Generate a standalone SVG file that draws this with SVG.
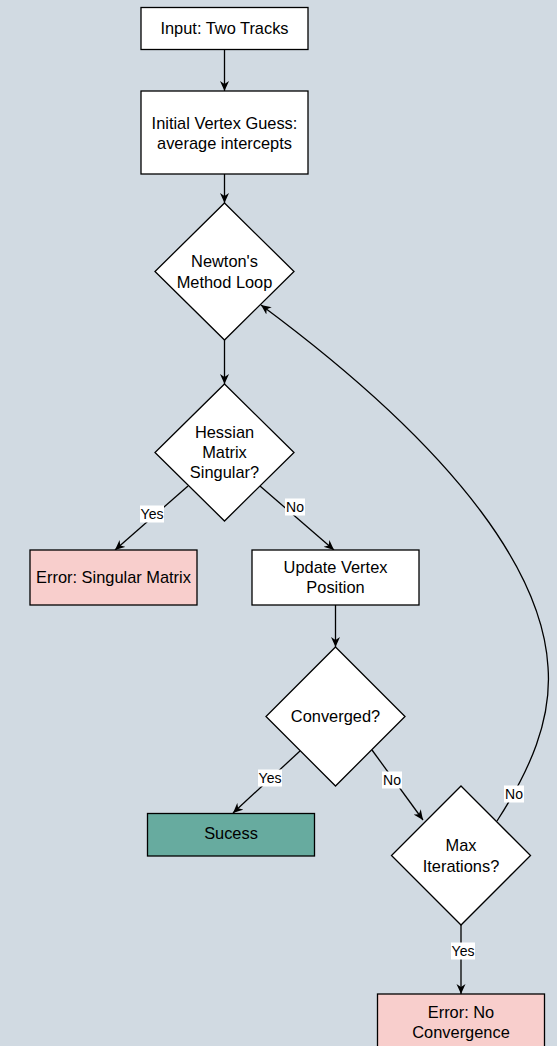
<svg xmlns="http://www.w3.org/2000/svg" width="557" height="1046" viewBox="0 0 557 1046">
  <style>
    .box { stroke: #000; stroke-width: 1.3; }
    .plain { fill: #fff; }
    .err { fill: #f8cecc; }
    .ok { fill: #67ab9f; }
    .txt { font-family: "Liberation Sans", Arial, sans-serif; font-size: 16.4px; fill: #000; text-anchor: middle; }
    .edge { fill: none; stroke: #000; stroke-width: 1.3; marker-end: url(#arr); }
    .lblbg { fill: #fff; }
    .lbl { font-family: "Liberation Sans", Arial, sans-serif; font-size: 14px; fill: #000; text-anchor: middle; }
  </style>
  <defs>
    <marker id="arr" viewBox="0 0 10 10" refX="10" refY="5" markerWidth="10" markerHeight="10" markerUnits="userSpaceOnUse" orient="auto">
      <path d="M0,0.5 L10,5 L0,9.5 L3,5 z" fill="#000"/>
    </marker>
  </defs>

  <rect width="557" height="1046" fill="#d1dae2"/>

  <!-- connectors -->
  <g id="edges">
    <path class="edge" d="M224.5,49 L224.5,91"/>
    <path class="edge" d="M224.5,174 L224.5,203"/>
    <path class="edge" d="M224.5,340 L224.5,384"/>
    <path class="edge" d="M188,486 L115,550"/>
    <path class="edge" d="M260,486 L334,550"/>
    <path class="edge" d="M335.5,605 L335.5,647"/>
    <path class="edge" d="M300,751 L233,813"/>
    <path class="edge" d="M372,750 L423,820"/>
    <path class="edge" d="M461,924 L461,994"/>
    <path class="edge" d="M497,821 C530,770 552,720 548,667 C543,580 470,460 261,305"/>

    <!-- edge labels -->
    <rect class="lblbg" x="140" y="505.5" width="24" height="17"/>
    <text class="lbl" x="152" y="519">Yes</text>
    <rect class="lblbg" x="285" y="498.5" width="20" height="17"/>
    <text class="lbl" x="295" y="512">No</text>
    <rect class="lblbg" x="258" y="769.5" width="24" height="17"/>
    <text class="lbl" x="270" y="783">Yes</text>
    <rect class="lblbg" x="382" y="771.5" width="20" height="17"/>
    <text class="lbl" x="392" y="785">No</text>
    <rect class="lblbg" x="504" y="785.5" width="20" height="17"/>
    <text class="lbl" x="514" y="799">No</text>
    <rect class="lblbg" x="451" y="942.5" width="24" height="17"/>
    <text class="lbl" x="463" y="956">Yes</text>
  </g>

  <g id="input">
    <rect class="box plain" x="141" y="7.5" width="167" height="42"/>
    <text class="txt" x="224.5" y="34">Input: Two Tracks</text>
  </g>

  <g id="guess">
    <rect class="box plain" x="141" y="91" width="167" height="83"/>
    <text class="txt" x="224.5" y="129">Initial Vertex Guess:</text>
    <text class="txt" x="224.5" y="149">average intercepts</text>
  </g>

  <g id="newton">
    <polygon class="box plain" points="224.5,203 294,271.5 224.5,340 155,271.5"/>
    <text class="txt" x="224.5" y="267">Newton's</text>
    <text class="txt" x="224.5" y="288">Method Loop</text>
  </g>

  <g id="hessian">
    <polygon class="box plain" points="224.5,384 294,452.5 224.5,521 155,452.5"/>
    <text class="txt" x="224.5" y="438">Hessian</text>
    <text class="txt" x="224.5" y="458">Matrix</text>
    <text class="txt" x="224.5" y="478">Singular?</text>
  </g>

  <g id="singular-error">
    <rect class="box err" x="30" y="550" width="167" height="55"/>
    <text class="txt" x="113.5" y="583">Error: Singular Matrix</text>
  </g>

  <g id="update">
    <rect class="box plain" x="252" y="550" width="167" height="55"/>
    <text class="txt" x="335.5" y="572.5">Update Vertex</text>
    <text class="txt" x="335.5" y="593">Position</text>
  </g>

  <g id="converged">
    <polygon class="box plain" points="335.5,647 405,716.5 335.5,786 266,716.5"/>
    <text class="txt" x="335.5" y="722">Converged?</text>
  </g>

  <g id="success">
    <rect class="box ok" x="147.5" y="813.5" width="167" height="42.5"/>
    <text class="txt" x="231" y="839">Sucess</text>
  </g>

  <g id="max-iter">
    <polygon class="box plain" points="461,786 530.5,855.5 461,925 391.5,855.5"/>
    <text class="txt" x="461" y="851">Max</text>
    <text class="txt" x="461" y="872">Iterations?</text>
  </g>

  <g id="no-convergence">
    <rect class="box err" x="377.5" y="994" width="167" height="55"/>
    <text class="txt" x="461" y="1018">Error: No</text>
    <text class="txt" x="461" y="1038">Convergence</text>
  </g>
</svg>
